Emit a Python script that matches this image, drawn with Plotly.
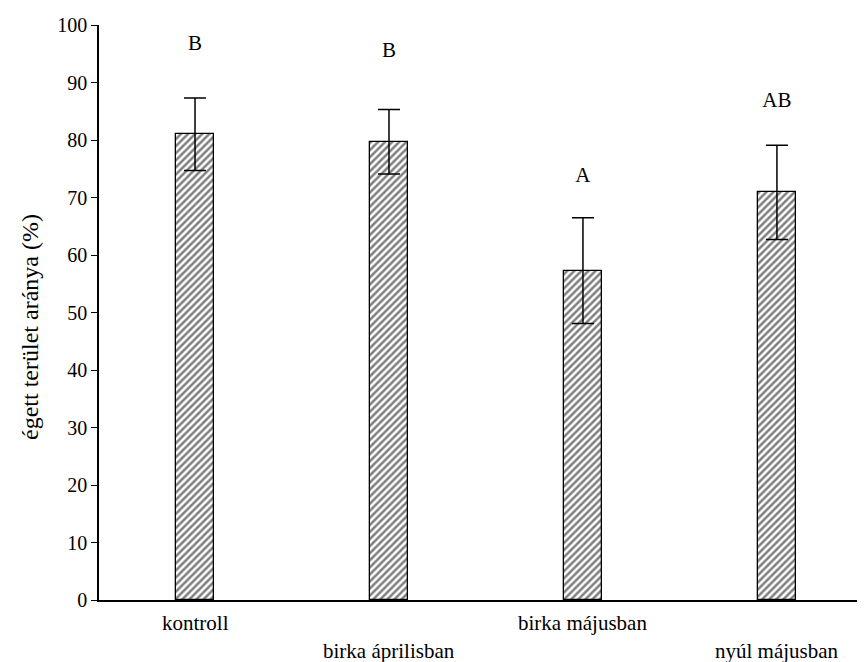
import plotly.graph_objects as go

categories = ["kontroll", "birka áprilisban", "birka májusban", "nyúl májusban"]
values = [81.0, 79.7, 57.3, 70.9]
errors = [6.3, 5.6, 9.2, 8.2]
letters = ["B", "B", "A", "AB"]
letter_y = [96.6, 95.4, 73.6, 86.7]
label_row = [0, 1, 0, 1]
y_title = "égett terület aránya (%)"

FONT = "'Times New Roman', 'Liberation Serif', serif"
x = list(range(len(categories)))

fig = go.Figure()
fig.add_trace(go.Bar(
    x=x, y=values, width=0.2,
    marker=dict(color="white", line=dict(color="black", width=1.3),
                pattern=dict(shape="/", fgcolor="black", bgcolor="white", size=5, solidity=0.5)),
    error_y=dict(type="data", array=errors, visible=True, color="black", thickness=1.5, width=11),
    showlegend=False,
))
fig.add_trace(go.Scatter(
    x=x, y=letter_y, mode="text", text=letters,
    textfont=dict(family=FONT, size=21, color="black"), showlegend=False,
))

for i, (c, r) in enumerate(zip(categories, label_row)):
    fig.add_annotation(x=i, y=0, xref="x", yref="y", text=c, showarrow=False,
                       yanchor="top", yshift=-9 - 28 * r,
                       font=dict(family=FONT, size=21, color="black"))

fig.add_annotation(x=-0.09, y=0.475, xref="paper", yref="paper", text=y_title,
                   showarrow=False, textangle=-90, xanchor="center", yanchor="middle",
                   font=dict(family=FONT, size=24, color="black"))

fig.update_layout(
    width=857, height=654,
    margin=dict(l=91, r=0, t=17, b=62),
    plot_bgcolor="white", paper_bgcolor="white",
    font=dict(family=FONT, size=21, color="black"),
    bargap=0,
)
fig.update_xaxes(range=[-0.495, 3.454], showticklabels=False, ticks="", showgrid=False,
                 zeroline=False, showline=True, linecolor="black", linewidth=1.5,
                 tickvals=x)
fig.update_yaxes(range=[0, 100], dtick=10, ticks="outside", ticklen=6, tickcolor="black",
                 showgrid=False, zeroline=False, showline=True, linecolor="black", linewidth=1.5,
                 tickfont=dict(family=FONT, size=20, color="black"))

fig.write_html("out.html")
